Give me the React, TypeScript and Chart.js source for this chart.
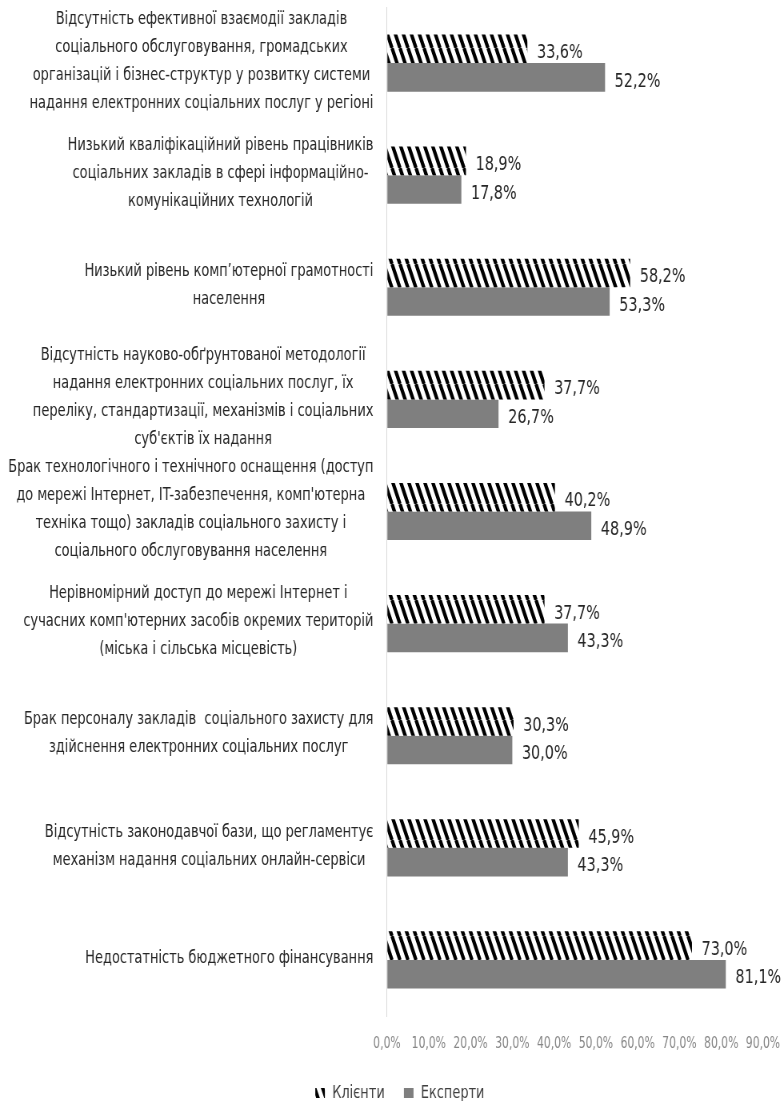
import React, { useEffect, useRef } from "react";
import { Chart, registerables } from "chart.js";

Chart.register(...registerables);

const FONT = '"DejaVu Sans Condensed", "DejaVu Sans", sans-serif';

// Horizontal squeeze: the canvas is drawn wider and shown at the page width,
// so the text gets the narrow look of the reference.
const SQUEEZE = 0.8;
const VIEW_W = 784;
const VIEW_H = 1101;
const DRAW_W = Math.round(VIEW_W / SQUEEZE);

const categories: string[][] = [
  [
    "Відсутність ефективної взаємодії закладів",
    "соціального обслуговування, громадських",
    "організацій і бізнес-структур у розвитку системи",
    "надання електронних соціальних послуг у регіоні",
  ],
  [
    "Низький кваліфікаційний рівень працівників",
    "соціальних закладів в сфері інформаційно-",
    "комунікаційних технологій",
  ],
  ["Низький рівень комп’ютерної грамотності", "населення"],
  [
    "Відсутність науково-обґрунтованої методології",
    "надання електронних соціальних послуг, їх",
    "переліку, стандартизації, механізмів і соціальних",
    "суб'єктів їх надання",
  ],
  [
    "Брак технологічного і технічного оснащення (доступ",
    "до мережі Інтернет, IT-забезпечення, комп'ютерна",
    "техніка тощо) закладів соціального захисту і",
    "соціального обслуговування населення",
  ],
  [
    "Нерівномірний доступ до мережі Інтернет і",
    "сучасних комп'ютерних засобів окремих територій",
    "(міська і сільська місцевість)",
  ],
  [
    "Брак персоналу закладів  соціального захисту для",
    "здійснення електронних соціальних послуг",
  ],
  [
    "Відсутність законодавчої бази, що регламентує",
    "механізм надання соціальних онлайн-сервіси",
  ],
  ["Недостатність бюджетного фінансування"],
];

const clients = [33.6, 18.9, 58.2, 37.7, 40.2, 37.7, 30.3, 45.9, 73.0];
const experts = [52.2, 17.8, 53.3, 26.7, 48.9, 43.3, 30.0, 43.3, 81.1];
const seriesNames = ["Клієнти", "Експерти"];
const xMin = 0;
const xMax = 90;
const xStep = 10;

const fmt = (v: number) => v.toFixed(1).replace(".", ",") + "%";

function makeHatch(): CanvasPattern | string {
  const w = 10;
  const h = 24;
  const c = document.createElement("canvas");
  c.width = w;
  c.height = h;
  const ctx = c.getContext("2d");
  if (!ctx) return "#000";
  ctx.fillStyle = "#ffffff";
  ctx.fillRect(0, 0, w, h);
  ctx.strokeStyle = "#000000";
  ctx.lineWidth = 4.2;
  for (let k = -1; k <= 1; k++) {
    ctx.beginPath();
    ctx.moveTo(k * w, 0);
    ctx.lineTo(k * w + w, h);
    ctx.stroke();
  }
  const p = ctx.createPattern(c, "repeat");
  return p || "#000";
}

const categoryLabelsPlugin = {
  id: "categoryLabels",
  afterDraw(chart: any) {
    const ctx = chart.ctx as CanvasRenderingContext2D;
    const yScale = chart.scales.y;
    const right = chart.chartArea.left - 17;
    const lineH = 28;
    ctx.save();
    ctx.font = `18px ${FONT}`;
    ctx.fillStyle = "#262626";
    ctx.textAlign = "center";
    ctx.textBaseline = "middle";
    categories.forEach((lines, i) => {
      const cy = yScale.getPixelForValue(i);
      let maxW = 0;
      lines.forEach((l) => {
        maxW = Math.max(maxW, ctx.measureText(l).width);
      });
      const cx = right - maxW / 2;
      const startY = cy - ((lines.length - 1) * lineH) / 2 - 2;
      lines.forEach((l, j) => {
        ctx.fillText(l, cx, startY + j * lineH);
      });
    });
    ctx.restore();
  },
};

const valueLabelsPlugin = {
  id: "valueLabels",
  afterDatasetsDraw(chart: any) {
    const ctx = chart.ctx as CanvasRenderingContext2D;
    ctx.save();
    ctx.font = `20px ${FONT}`;
    ctx.fillStyle = "#262626";
    ctx.textAlign = "left";
    ctx.textBaseline = "middle";
    chart.data.datasets.forEach((ds: any, di: number) => {
      const meta = chart.getDatasetMeta(di);
      meta.data.forEach((bar: any, i: number) => {
        ctx.fillText(fmt(ds.data[i] as number), bar.x + 12, bar.y + 4);
      });
    });
    ctx.restore();
  },
};

const legendShiftPlugin = {
  id: "legendShift",
  afterLayout(chart: any) {
    const lg = chart.legend;
    if (lg) {
      lg.left += 23;
      lg.right += 23;
    }
  },
};

export default function App() {
  const ref = useRef<HTMLCanvasElement | null>(null);

  useEffect(() => {
    document.body.style.margin = "0";
    if (!ref.current) return;
    const hatch = makeHatch();
    const chart = new Chart(ref.current, {
      type: "bar",
      data: {
        labels: categories,
        datasets: [
          {
            label: seriesNames[0],
            data: clients,
            backgroundColor: hatch as any,
            borderWidth: 0,
            categoryPercentage: 0.51,
            barPercentage: 1.0,
          },
          {
            label: seriesNames[1],
            data: experts,
            backgroundColor: "#7f7f7f",
            borderWidth: 0,
            categoryPercentage: 0.51,
            barPercentage: 1.0,
          },
        ],
      },
      options: {
        indexAxis: "y",
        responsive: false,
        devicePixelRatio: 1,
        animation: false,
        layout: { padding: { top: 7, right: DRAW_W - 763 / SQUEEZE, left: 0, bottom: -11 } },
        scales: {
          x: {
            min: xMin,
            max: xMax,
            grid: { display: true, color: "rgba(0,0,0,0)", drawOnChartArea: false, drawTicks: true, tickLength: 16 },
            border: { display: false },
            ticks: {
              stepSize: xStep,
              padding: 3,
              maxRotation: 0,
              minRotation: 0,
              autoSkip: false,
              color: "#868686",
              font: { family: FONT, size: 15 },
              callback: (v: any) => fmt(Number(v)),
            },
            afterFit: (scale: any) => {
              scale.height = 44;
            },
          },
          y: {
            grid: { display: false, drawTicks: false },
            border: { display: true, color: "#d9d9d9", width: 1 },
            ticks: { display: false },
            afterFit: (scale: any) => {
              scale.width = 387 / SQUEEZE;
            },
          },
        },
        plugins: {
          legend: {
            position: "bottom",
            labels: {
              boxWidth: 12,
              boxHeight: 10,
              padding: 24,
              color: "#404040",
              font: { family: FONT, size: 18 },
            },
          },
          tooltip: { enabled: false },
        },
      },
      plugins: [valueLabelsPlugin, categoryLabelsPlugin, legendShiftPlugin],
    });
    return () => chart.destroy();
  }, []);

  return (
    <div style={{ width: VIEW_W, height: VIEW_H, overflow: "hidden" }}>
      <canvas
        ref={ref}
        width={DRAW_W}
        height={VIEW_H}
        style={{ display: "block", width: `${VIEW_W}px`, height: `${VIEW_H}px` }}
      />
    </div>
  );
}
